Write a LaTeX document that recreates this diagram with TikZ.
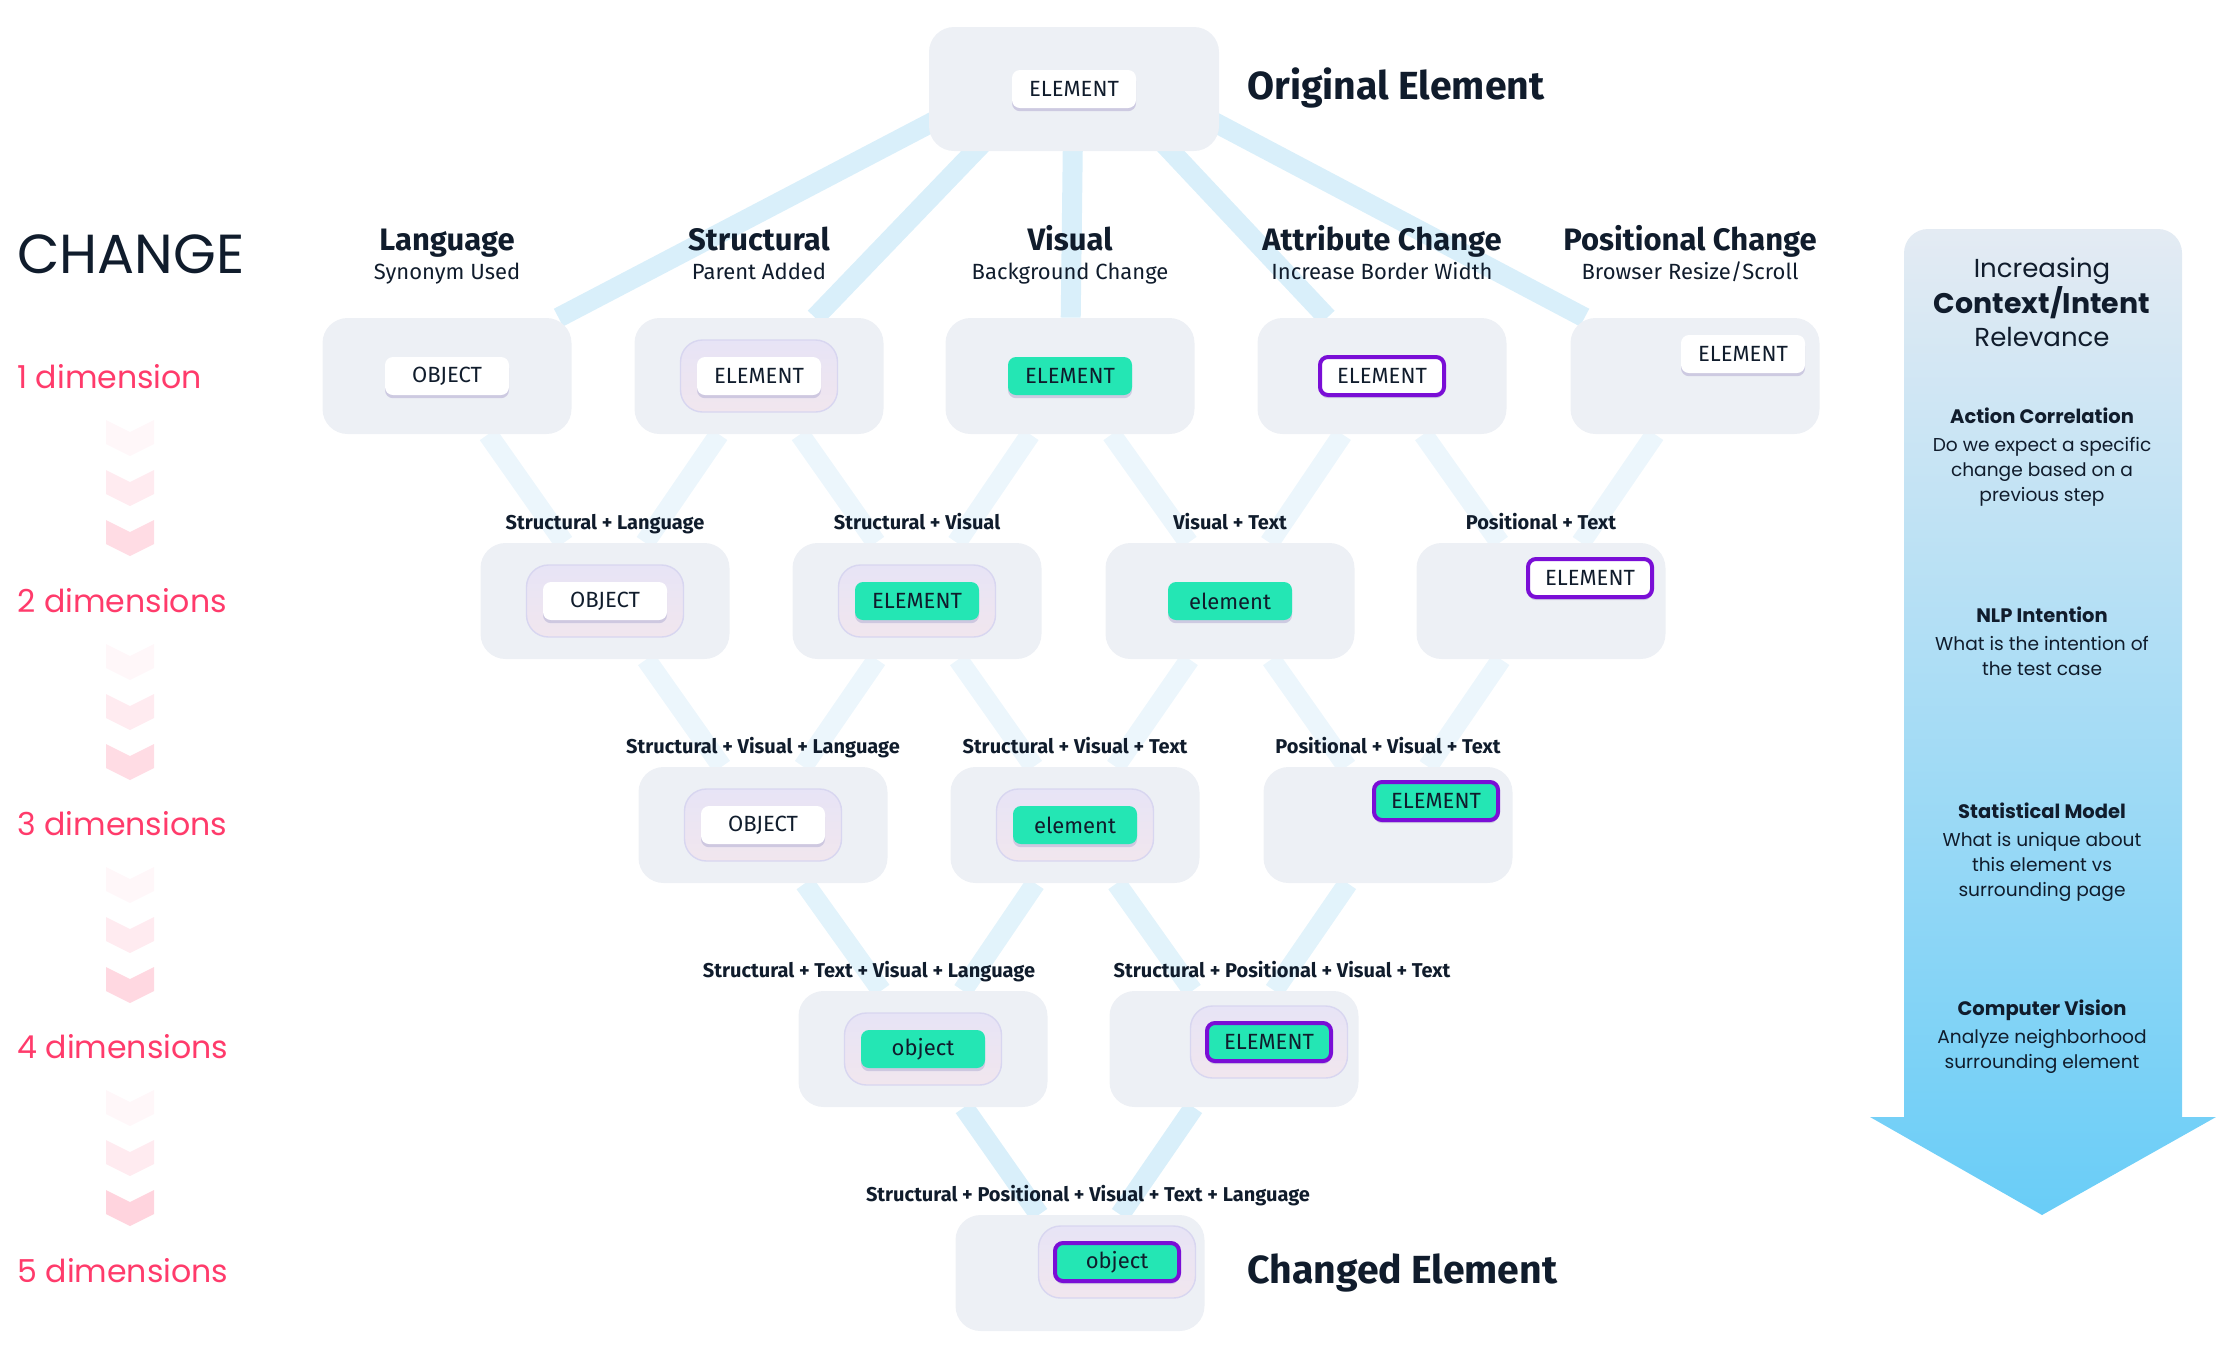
\documentclass[tikz,border=0pt]{standalone}
\usepackage{fontspec}
\setmainfont{Fira Sans}
\newfontfamily\geo{Poppins}
\usepackage{tikz}
\usetikzlibrary{positioning,shadows}

\definecolor{navy}{HTML}{101C2C}
\definecolor{boxgray}{HTML}{EDF0F5}
\definecolor{mint}{HTML}{24E6B4}
\definecolor{violet}{HTML}{7A0ED6}
\definecolor{halotop}{HTML}{E7E4F6}
\definecolor{halobot}{HTML}{F1E6EE}
\definecolor{haloline}{HTML}{D8D6F0}
\definecolor{pillshadow}{HTML}{C6C1DD}
\definecolor{linkblue}{HTML}{D9EFFA}
\definecolor{linkmid}{HTML}{E2F3FB}
\definecolor{linkpale}{HTML}{ECF6FC}
\definecolor{dimpink}{HTML}{FF3B6B}
\definecolor{arrowtop}{HTML}{E4EBF3}
\definecolor{arrowmid}{HTML}{D3E7F3}
\definecolor{arrowbot}{HTML}{69CDF7}

\pgfdeclarelayer{background}
\pgfsetlayers{background,main}

\tikzstyle{cell}=[rounded corners=12.5pt, fill=boxgray, minimum width=124.5pt, minimum height=58pt]
\tikzstyle{halo}=[rounded corners=11pt, top color=halotop, bottom color=halobot, draw=haloline, line width=0.7pt, minimum width=78.5pt, minimum height=36pt]
\tikzstyle{pill}=[rounded corners=4pt, fill=white, text=navy, minimum width=62pt, minimum height=19pt, inner sep=2pt, font=\fontsize{11}{13}\selectfont, drop shadow={shadow xshift=0pt, shadow yshift=-1.6pt, fill=pillshadow, opacity=0.8}]
\tikzstyle{mintfill}=[fill=mint]
\tikzstyle{ring}=[draw=violet, line width=2pt]
\tikzstyle{link}=[draw=linkblue, line width=10pt]
\tikzstyle{tag}=[text=navy, inner sep=0pt, text height=7.5pt, text depth=2pt, font=\bfseries\fontsize{10}{12}\selectfont]
\tikzstyle{headtitle}=[text=navy, anchor=base, inner sep=0pt, font=\bfseries\fontsize{15.5}{18}\selectfont]
\tikzstyle{headsub}=[text=navy, anchor=base, inner sep=0pt, font=\fontsize{11}{13}\selectfont]
\tikzstyle{bigtitle}=[anchor=west, text=navy, inner sep=0pt, font=\bfseries\fontsize{19.6}{24}\selectfont]
\tikzstyle{dimlabel}=[anchor=west, text=dimpink, inner sep=0pt, font=\geo\fontsize{15.8}{18}\selectfont]
\tikzstyle{side}=[text=navy, align=center, inner sep=0pt, font=\geo\fontsize{9.3}{12.5}\selectfont]
\tikzset{chev/.pic={\fill (-24,-18) -- (0,-6) -- (24,-18) -- (24,6) -- (0,18) -- (-24,6) -- cycle;}}

\begin{document}
\begin{tikzpicture}[x=0.5pt, y=-0.5pt]
        \useasboundingbox (0,0) rectangle (2216,1362);

        % original element
        \node[cell, minimum width=145pt, minimum height=62pt] (O) at (1074,89) {};
        \coordinate (Ohub) at (1074,48);
        \node[pill] (Op) at (O) {ELEMENT};
        \node[bigtitle] (Ot) at (1247,88) {Original Element};

        % 1 dimension
        \node[headtitle] (Lah) at (447,250) {Language};
        \node[headsub] (Las) at (447,279) {Synonym Used};
        \node[headtitle] (Sth) at (759,250) {Structural};
        \node[headsub] (Sts) at (759,279) {Parent Added};
        \node[headtitle] (Vih) at (1070,250) {Visual};
        \node[headsub] (Vis) at (1070,279) {Background Change};
        \node[headtitle] (Ath) at (1382,250) {Attribute Change};
        \node[headsub] (Ats) at (1382,279) {Increase Border Width};
        \node[headtitle] (Poh) at (1690,250) {Positional Change};
        \node[headsub] (Pos) at (1690,279) {Browser Resize/Scroll};

        \node[cell] (La) at (447,376) {};
        \node[pill] (Lap) at (La) {OBJECT};
        \node[cell] (St) at (759,376) {};
        \node[halo] (Sto) at (St) {};
        \node[pill] (Stp) at (St) {ELEMENT};
        \node[cell] (Vi) at (1070,376) {};
        \node[pill, mintfill] (Vip) at (Vi) {ELEMENT};
        \node[cell] (At) at (1382,376) {};
        \node[pill, ring] (Atp) at (At) {ELEMENT};
        \node[cell] (Po) at (1695,376) {};
        \node[pill] (Pop) at ([shift={(48,-22)}]Po) {ELEMENT};

        % 2 dimensions
        \node[cell] (SL) at (605,601) {};
        \node[halo] (SLo) at (SL) {};
        \node[pill] (SLp) at (SL) {OBJECT};
        \node[tag, above=4.5pt of SL] (SLt) {Structural + Language};
        \node[cell] (SV) at (917,601) {};
        \node[halo] (SVo) at (SV) {};
        \node[pill, mintfill] (SVp) at (SV) {ELEMENT};
        \node[tag, above=4.5pt of SV] (SVt) {Structural + Visual};
        \node[cell] (VT) at (1230,601) {};
        \node[pill, mintfill] (VTp) at (VT) {element};
        \node[tag, above=4.5pt of VT] (VTt) {Visual + Text};
        \node[cell] (PT) at (1541,601) {};
        \node[pill, ring] (PTp) at ([shift={(49,-23)}]PT) {ELEMENT};
        \node[tag, above=4.5pt of PT] (PTt) {Positional + Text};

        % 3 dimensions
        \node[cell] (SVL) at (763,825) {};
        \node[halo] (SVLo) at (SVL) {};
        \node[pill] (SVLp) at (SVL) {OBJECT};
        \node[tag, above=4.5pt of SVL] (SVLt) {Structural + Visual + Language};
        \node[cell] (SVT) at (1075,825) {};
        \node[halo] (SVTo) at (SVT) {};
        \node[pill, mintfill] (SVTp) at (SVT) {element};
        \node[tag, above=4.5pt of SVT] (SVTt) {Structural + Visual + Text};
        \node[cell] (PVT) at (1388,825) {};
        \node[pill, mintfill, ring] (PVTp) at ([shift={(48,-24)}]PVT) {ELEMENT};
        \node[tag, above=4.5pt of PVT] (PVTt) {Positional + Visual + Text};

        % 4 dimensions
        \node[cell] (STVL) at (923,1049) {};
        \node[halo] (STVLo) at (STVL) {};
        \node[pill, mintfill] (STVLp) at (STVL) {object};
        \node[tag, above=4.5pt of STVL, xshift=-27pt] (STVLt) {Structural + Text + Visual + Language};
        \node[cell] (SPVT) at (1234,1049) {};
        \node[halo] (SPVTo) at ([shift={(35,-7)}]SPVT) {};
        \node[pill, mintfill, ring] (SPVTp) at (SPVTo) {ELEMENT};
        \node[tag, above=4.5pt of SPVT, xshift=24pt] (SPVTt) {Structural + Positional + Visual + Text};

        % 5 dimensions
        \node[cell] (F) at (1080,1273) {};
        \node[halo] (Fo) at ([shift={(37,-11)}]F) {};
        \node[pill, mintfill, ring] (Fp) at (Fo) {object};
        \node[tag, above=4.5pt of F, xshift=4pt] (Ft) {Structural + Positional + Visual + Text + Language};
        \node[bigtitle] (Fc) at (1247,1273) {Changed Element};

        % left column
        \node[anchor=west, text=navy, inner sep=0pt, font=\geo\fontsize{27.5}{30}\selectfont] (chg) at (17,254) {CHANGE};
        \node[dimlabel] (d1) at (17,377) {1 dimension};
        \node[dimlabel] (d2) at (17,601) {2 dimensions};
        \node[dimlabel] (d3) at (17,824) {3 dimensions};
        \node[dimlabel] (d4) at (17,1047) {4 dimensions};
        \node[dimlabel] (d5) at (17,1271) {5 dimensions};
        \pic[fill=dimpink!4] at (130,438) {chev};
        \pic[fill=dimpink!10] at (130,488) {chev};
        \pic[fill=dimpink!18] at (130,538) {chev};
        \pic[fill=dimpink!4] at (130,662) {chev};
        \pic[fill=dimpink!10] at (130,712) {chev};
        \pic[fill=dimpink!18] at (130,762) {chev};
        \pic[fill=dimpink!4] at (130,885) {chev};
        \pic[fill=dimpink!10] at (130,935) {chev};
        \pic[fill=dimpink!20] at (130,985) {chev};
        \pic[fill=dimpink!4] at (130,1108) {chev};
        \pic[fill=dimpink!10] at (130,1158) {chev};
        \pic[fill=dimpink!22] at (130,1208) {chev};

        % right arrow
        \shade[top color=arrowtop, middle color=arrowmid, bottom color=arrowbot] (2042,1215) -- (1870,1117) -- (1904,1117) -- (1904,700) [rounded corners=12pt] -- (1904,229) -- (2182,229) -- (2182,700) [sharp corners] -- (2182,1117) -- (2216,1117) -- cycle;
        \node[side, font=\geo\fontsize{13}{16.5}\selectfont] (Ctx) at (2042,302) {Increasing\\{\fontsize{14.2}{16.5}\selectfont\bfseries Context/Intent}\\Relevance};
        \node[side] (Act) at (2042,457) {{\fontsize{9.75}{12.5}\selectfont\bfseries Action Correlation}\\[1.5pt]Do we expect a specific\\change based on a\\previous step};
        \node[side] (Nlp) at (2042,641) {{\fontsize{9.75}{12.5}\selectfont\bfseries NLP Intention}\\[1.5pt]What is the intention of\\the test case};
        \node[side] (Stat) at (2042,852) {{\fontsize{9.75}{12.5}\selectfont\bfseries Statistical Model}\\[1.5pt]What is unique about\\this element vs\\surrounding page};
        \node[side] (Cv) at (2042,1037) {{\fontsize{9.75}{12.5}\selectfont\bfseries Computer Vision}\\[1.5pt]Analyze neighborhood\\surrounding element};

        % bands
        \begin{pgfonlayer}{background}
        \path (Ohub) edge[link] (La) edge[link] (St) edge[link] (Vi) edge[link] (At) edge[link] (Po);
        \path (SL) edge[link, draw=linkpale] (La) edge[link, draw=linkpale] (St);
        \path (SV) edge[link, draw=linkpale] (St) edge[link, draw=linkpale] (Vi);
        \path (VT) edge[link, draw=linkpale] (Vi) edge[link, draw=linkpale] (At);
        \path (PT) edge[link, draw=linkpale] (At) edge[link, draw=linkpale] (Po);
        \path (SVL) edge[link, draw=linkpale] (SL) edge[link, draw=linkpale] (SV);
        \path (SVT) edge[link, draw=linkpale] (SV) edge[link, draw=linkpale] (VT);
        \path (PVT) edge[link, draw=linkpale] (VT) edge[link, draw=linkpale] (PT);
        \path (STVL) edge[link, draw=linkmid] (SVL) edge[link, draw=linkmid] (SVT);
        \path (SPVT) edge[link, draw=linkmid] (SVT) edge[link, draw=linkmid] (PVT);
        \path (F) edge[link] (STVL) edge[link] (SPVT);
        \end{pgfonlayer}
    \end{tikzpicture}
\end{document}
